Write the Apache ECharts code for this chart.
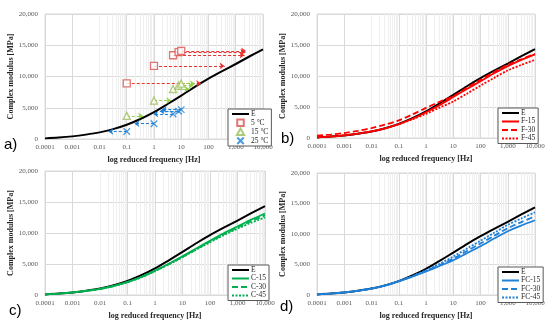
<!DOCTYPE html>
<html><head><meta charset="utf-8">
<script src="https://cdn.jsdelivr.net/npm/echarts@6/dist/echarts.min.js"></script>
<style>html,body{margin:0;padding:0;background:#fff}#c{width:550px;height:330px}</style>
</head><body><div id="c"></div>
<script>
// frequencies (Hz), half-decade steps
const freq = [1e-4, 3.162e-4, 1e-3, 3.162e-3, 1e-2, 3.162e-2, 0.1, 0.3162, 1, 3.162, 10, 31.62, 100, 316.2, 1000, 3162, 10000];
const tickLabels = ['0.0001', '0.001', '0.01', '0.1', '1', '10', '100', '1,000', '10,000'];
// master curve E
const E    = [100, 230, 420, 700, 1060, 1580, 2280, 3200, 4300, 5600, 6950, 8350, 9650, 10850, 12000, 13200, 14350];
// panel b
const F15  = [100, 230, 430, 700, 1060, 1560, 2250, 3100, 4150, 5300, 6600, 7900, 9150, 10450, 11600, 12600, 13500];
const F30  = [380, 560, 800, 1150, 1600, 2150, 2850, 3800, 4850, 5850, 6750, 8100, 9400, 10650, 11800, 12700, 13550];
const F45  = [100, 220, 420, 680, 1040, 1530, 2200, 3000, 3900, 4900, 5900, 7150, 8450, 9700, 10900, 11800, 12600];
// panel c
const C15  = [100, 220, 410, 670, 1000, 1480, 2100, 2900, 3950, 5050, 6250, 7500, 8750, 9950, 11050, 12150, 13150];
const C30  = [100, 220, 410, 660, 990, 1460, 2080, 2880, 3900, 4980, 6150, 7380, 8620, 9800, 10880, 11900, 12850];
const C45  = [100, 220, 400, 650, 970, 1440, 2050, 2830, 3850, 4920, 6080, 7300, 8500, 9650, 10700, 11650, 12500];
// panel d
const FC15 = [100, 230, 420, 690, 1050, 1550, 2250, 3000, 3850, 4750, 5700, 6850, 8000, 9250, 10450, 11400, 12250];
const FC30 = [100, 230, 420, 690, 1050, 1560, 2260, 3050, 3950, 4900, 5950, 7200, 8450, 9700, 10950, 11950, 12900];
const FC45 = [100, 230, 420, 690, 1060, 1570, 2270, 3100, 4050, 5100, 6300, 7600, 8900, 10200, 11500, 12550, 13550];
// panel a measured points and shifted frequencies
const testFreq = [0.1, 1, 5, 8, 10];
const mod5  = [8900, 11700, 13400, 13900, 14100];
const shift5  = [54, 390, 2100, 2250, 2400];
const mod15 = [3700, 6150, 8000, 8550, 8850];
const shift15 = [0.4, 4.3, 20, 28, 32];
const mod25 = [1200, 2450, 4000, 4450, 4700];
const shift25 = [0.021, 0.19, 0.93, 1.6, 1.9];

const FONT = 'Liberation Serif';
const RED = '#ff0000', GREEN = '#00b050', BLUE = '#1f80d8';
const grids = [
  {left: 45, top: 14, width: 218, height: 125},
  {left: 317, top: 14, width: 218, height: 124},
  {left: 45, top: 171, width: 220, height: 124},
  {left: 317, top: 173, width: 218, height: 122}
];
const minorVals = [];
for (let k = -4; k < 4; k++) for (let m = 2; m <= 9; m++) minorVals.push(m * Math.pow(10, k));

const xAxes = grids.map((g, i) => ({
  type: 'log', logBase: 10, gridIndex: i, min: 1e-4, max: 1e4,
  name: 'log reduced frequency [Hz]', nameLocation: 'middle', nameGap: 17,
  nameTextStyle: {fontFamily: FONT, fontWeight: 'bold', fontSize: 8, color: '#262626'},
  axisLabel: {fontFamily: FONT, fontSize: 7, color: '#595959', margin: 5,
    formatter: v => tickLabels[Math.round(Math.log10(v)) + 4]},
  axisTick: {show: false},
  axisLine: {show: true, lineStyle: {color: '#d9d9d9'}},
  splitLine: {show: true, lineStyle: {color: '#d9d9d9', width: 1}}
}));
const yAxes = grids.map((g, i) => ({
  type: 'value', gridIndex: i, min: 0, max: 20000, interval: 5000,
  name: 'Complex modulus [MPa]', nameLocation: 'middle', nameGap: 30,
  nameTextStyle: {fontFamily: FONT, fontWeight: 'bold', fontSize: 8, color: '#262626'},
  axisLabel: {fontFamily: FONT, fontSize: 7, color: '#595959', margin: 7,
    formatter: v => v.toLocaleString('en-US')},
  axisTick: {show: false}, axisLine: {show: false},
  splitLine: {lineStyle: {color: '#d9d9d9'}}
}));

const pairs = arr => freq.map((f, i) => [f, arr[i]]);
function curve(name, arr, idx, color, type, width) {
  return {name, type: 'line', xAxisIndex: idx, yAxisIndex: idx, data: pairs(arr), smooth: 0.3,
    symbol: 'none', lineStyle: {color, type, width}, itemStyle: {color}, z: 3};
}
function minorSeries(idx) {
  return {type: 'line', xAxisIndex: idx, yAxisIndex: idx, data: [], silent: true,
    markLine: {silent: true, symbol: 'none', z: 1, label: {show: false},
      lineStyle: {color: '#efefef', type: 'solid', width: 1},
      data: minorVals.map(v => ({xAxis: v}))}};
}
function arrows(mods, shifts, color) {
  return {type: 'lines', coordinateSystem: 'cartesian2d', xAxisIndex: 0, yAxisIndex: 0, silent: true,
    symbol: ['none', 'arrow'], symbolSize: 5, z: 4,
    lineStyle: {color, type: [3, 2], width: 1.2, opacity: 1},
    data: testFreq.map((f, i) => ({coords: [[f, mods[i]], [shifts[i], mods[i]]]}))};
}
function pts(name, mods, symbol, color, size, fill) {
  return {name, type: 'scatter', xAxisIndex: 0, yAxisIndex: 0, symbol, symbolSize: size, z: 5,
    data: testFreq.map((f, i) => [f, mods[i]]),
    itemStyle: {color: fill, borderColor: color, borderWidth: 1.3}};
}
const XPATH = 'path://M0,0L10,10M10,0L0,10';
const SQPATH = 'path://M0,0h10v10h-10z';
const TRIPATH = 'path://M5,0L10,9L0,9z';

const series = [
  minorSeries(0), minorSeries(1), minorSeries(2), minorSeries(3),
  curve('E', E, 0, '#000', 'solid', 2),
  arrows(mod5, shift5, '#e8322e'), arrows(mod15, shift15, '#92d050'), arrows(mod25, shift25, BLUE),
  pts('5 °C', mod5, 'rect', '#d9534f', 7, '#fff'),
  pts('15 °C', mod15, 'triangle', '#9bbb59', 7, '#fff'),
  pts('25 °C', mod25, XPATH, BLUE, 6.5, 'rgba(0,0,0,0)'),
  curve('E', E, 1, '#000', 'solid', 2),
  curve('F-15', F15, 1, RED, 'solid', 1.8),
  curve('F-30', F30, 1, RED, [6, 3], 1.8),
  curve('F-45', F45, 1, RED, [2, 1.5], 1.8),
  curve('E', E, 2, '#000', 'solid', 2),
  curve('C-15', C15, 2, GREEN, 'solid', 1.8),
  curve('C-30', C30, 2, GREEN, [6, 3], 1.8),
  curve('C-45', C45, 2, GREEN, [2, 1.5], 1.8),
  curve('E', E, 3, '#000', 'solid', 2),
  curve('FC-15', FC15, 3, BLUE, 'solid', 1.8),
  curve('FC-30', FC30, 3, BLUE, [6, 3], 1.8),
  curve('FC-45', FC45, 3, BLUE, [2, 1.5], 1.8)
];
const lineItem = n => ({name: n, itemStyle: {opacity: 0}});
function legend(left, top, data) {
  return {left, top, orient: 'vertical', itemGap: 0.5, itemWidth: 17, itemHeight: 6.5,
    padding: [1, 3, 1, 3], borderColor: '#595959', borderWidth: 1, backgroundColor: '#fff',
    symbolKeepAspect: true,
    textStyle: {fontFamily: FONT, fontSize: 7.5, color: '#262626', padding: [0, 0, 0, -3]},
    selectedMode: false, data};
}
const chart = echarts.init(document.getElementById('c'), null, {renderer: 'canvas'});
chart.setOption({
  animation: false,
  grid: grids.map(g => Object.assign({show: true, borderColor: '#d9d9d9', borderWidth: 1, backgroundColor: 'transparent'}, g)),
  xAxis: xAxes, yAxis: yAxes,
  legend: [
    legend(228, 109, [lineItem('E'), {name: '5 °C', icon: SQPATH}, {name: '15 °C', icon: TRIPATH}, {name: '25 °C', icon: XPATH}]),
    legend(498, 108, ['E', 'F-15', 'F-30', 'F-45'].map(lineItem)),
    legend(228, 265, ['E', 'C-15', 'C-30', 'C-45'].map(lineItem)),
    legend(498, 267, ['E', 'FC-15', 'FC-30', 'FC-45'].map(lineItem))
  ],
  graphic: [
    {type: 'text', left: 4, top: 137, style: {text: 'a)', font: '15px "Liberation Sans"', fill: '#000'}},
    {type: 'text', left: 281, top: 131, style: {text: 'b)', font: '15px "Liberation Sans"', fill: '#000'}},
    {type: 'text', left: 9, top: 303, style: {text: 'c)', font: '15px "Liberation Sans"', fill: '#000'}},
    {type: 'text', left: 280, top: 299, style: {text: 'd)', font: '15px "Liberation Sans"', fill: '#000'}}
  ],
  series
});
</script></body></html>
